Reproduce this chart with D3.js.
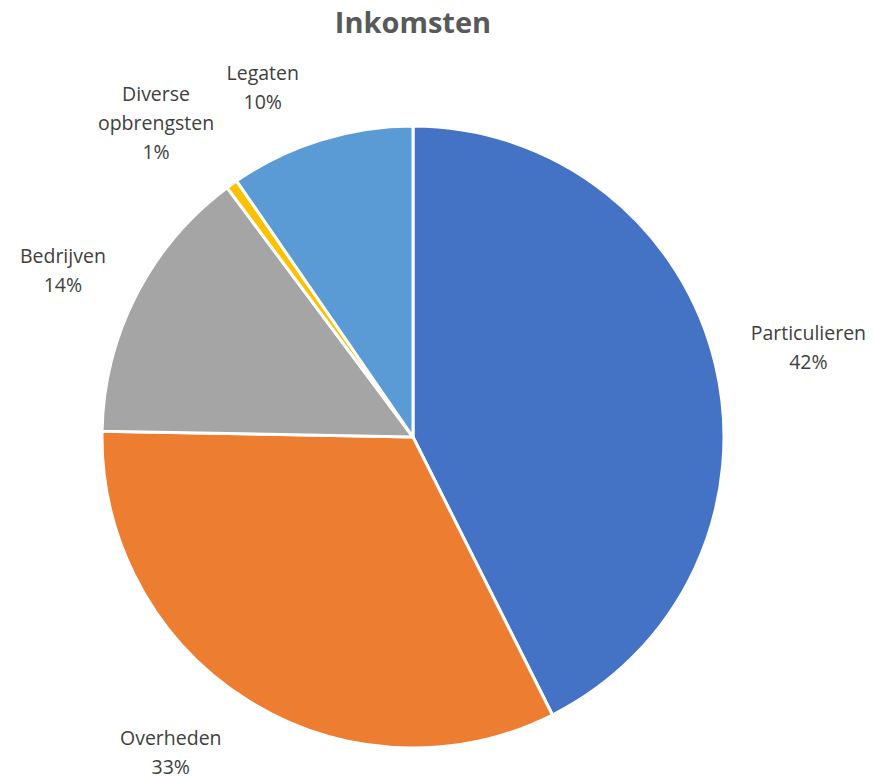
<!DOCTYPE html>
<html>
<head>
<meta charset="utf-8">
<script src="https://cdn.jsdelivr.net/npm/d3@7"></script>
<style>
    body { margin: 0; background: #fff; }
    text { font-family: "Open Sans", sans-serif; }
</style>
</head>
<body>
<div id="container"></div>
<script>
/* DATA */
const categories = ["Particulieren", "Overheden", "Bedrijven", "Diverse opbrengsten", "Legaten"]
const values = [42.6, 32.7, 14.5, 0.6, 9.6]
const percentLabels = ["42%", "33%", "14%", "1%", "10%"]
const labelLines = [["Particulieren"], ["Overheden"], ["Bedrijven"], ["Diverse", "opbrengsten"], ["Legaten"]]

/* CONSTANTS */
const width = 874,
    height = 776,
    radius = 311,
    cx = 413,
    cy = 437

const colors = d3.scaleOrdinal()
    .domain(categories)
    .range(["#4472C4", "#ED7D31", "#A5A5A5", "#FFC000", "#5B9BD5"])

// small nudges so the labels sit where excel put them
const labelNudge = {
    "Particulieren": [8, 2],
    "Overheden": [-30, -21],
    "Bedrijven": [4, 16],
    "Diverse opbrengsten": [-25, 10],
    "Legaten": [-32, 31]
}

const svg = d3.select("#container")
    .append("svg")
    .attr("width", width)
    .attr("height", height)

// TITLE
svg.append("text")
    .attr("x", cx)
    .attr("y", 33)
    .attr("text-anchor", "middle")
    .style("font-size", "29px")
    .style("font-weight", "bold")
    .style("fill", "#595959")
    .text("Inkomsten")

const data = categories.map((c, i) => ({ category: c, value: values[i], pct: percentLabels[i], lines: labelLines[i] }))

const pie = d3.pie()
    .value(d => d.value)
    .sort(null)

const arc = d3.arc()
    .innerRadius(0)
    .outerRadius(radius)

const labelArc = d3.arc()
    .innerRadius(radius * 1.28)
    .outerRadius(radius * 1.28)

const g = svg.append("g")
    .attr("transform", "translate(" + cx + "," + cy + ")")

g.selectAll("path")
    .data(pie(data))
    .join("path")
    .attr("d", arc)
    .attr("fill", d => colors(d.data.category))
    .attr("stroke", "#fff")
    .attr("stroke-width", 3)
    .attr("stroke-linejoin", "round")

// LABELS
const lineHeight = 29
const labels = g.selectAll("text.label")
    .data(pie(data))
    .join("text")
    .attr("class", "label")
    .attr("text-anchor", "middle")
    .style("font-size", "19.5px")
    .style("fill", "#404040")
    .attr("transform", d => {
        const c = labelArc.centroid(d)
        const n = labelNudge[d.data.category]
        return "translate(" + (c[0] + n[0]) + "," + (c[1] + n[1]) + ")"
    })

labels.each(function (d) {
    const lines = d.data.lines.concat([d.data.pct])
    const top = -(lines.length - 1) * lineHeight / 2
    d3.select(this).selectAll("tspan")
        .data(lines)
        .join("tspan")
        .attr("x", 0)
        .attr("y", (l, i) => top + i * lineHeight)
        .attr("dy", "0.35em")
        .text(l => l)
})
</script>
</body>
</html>
